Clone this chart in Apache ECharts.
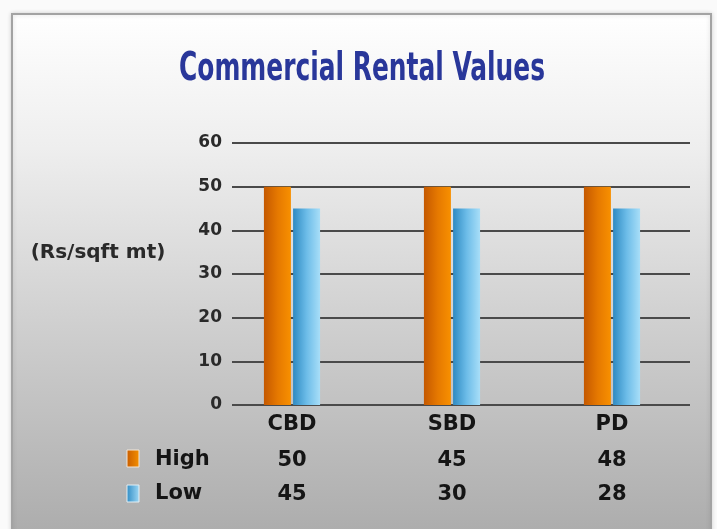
<!DOCTYPE html>
<html><head><meta charset="utf-8">
<script src="https://cdn.jsdelivr.net/npm/echarts@6/dist/echarts.min.js"></script>
<style>html,body{margin:0;padding:0;background:#fafafa}#c{width:717px;height:529px}</style>
</head><body><div id="c"></div>
<script>
const categories = ['CBD', 'SBD', 'PD'];
const highBars = [50, 50, 50];
const lowBars = [45, 45, 45];
const highTable = ['50', '45', '48'];
const lowTable = ['45', '30', '28'];
const yTicks = [0, 10, 20, 30, 40, 50, 60];
const titleText = 'Commercial Rental Values';
const yName = '(Rs/sqft mt)';

const chart = echarts.init(document.getElementById('c'), null, {renderer: 'canvas'});

const cv = document.createElement('canvas').getContext('2d');
const titleFont = 'bold 39px "DejaVu Sans Condensed", "DejaVu Sans", sans-serif';
cv.font = titleFont;
const tw = cv.measureText(titleText).width;
const sx = 366 / tw;

const FF = '"DejaVu Sans", Verdana, sans-serif';
const txt = {fontFamily: FF, fontWeight: 'bold'};

const option = {
  animation: false,
  backgroundColor: '#fafafa',
  graphic: [
    {type: 'rect', z: -10, shape: {x: 12, y: 14, width: 699, height: 540},
     style: {fill: new echarts.graphic.LinearGradient(0, 0, 0, 1, [
        {offset: 0, color: '#ffffff'}, {offset: 0.25, color: '#eeeeee'}, {offset: 0.6, color: '#cdcdcd'}, {offset: 1, color: '#a9a9a9'}]),
       stroke: '#a3a3a3', lineWidth: 2, shadowColor: 'rgba(0,0,0,0.15)', shadowBlur: 4}},
    {type: 'text', z: 5, x: 362, y: 70, scaleX: sx, originX: 0,
     style: {text: titleText, font: titleFont, fill: '#29379a', textAlign: 'center', textVerticalAlign: 'middle'}},
    {type: 'text', z: 5, x: 98, y: 253,
     style: {text: yName, font: 'bold 20px ' + FF, fill: '#2a2a2a', textAlign: 'center', textVerticalAlign: 'middle'}},
    {type: 'rect', z: 5, shape: {x: 127, y: 450, width: 12, height: 17},
     style: {fill: new echarts.graphic.LinearGradient(0, 0, 1, 0, [{offset: 0, color: '#c85c00'}, {offset: 1, color: '#f59000'}]), stroke: '#f2e6d8', lineWidth: 1}},
    {type: 'rect', z: 5, shape: {x: 127, y: 485, width: 12, height: 17},
     style: {fill: new echarts.graphic.LinearGradient(0, 0, 1, 0, [{offset: 0, color: '#2f8cc4'}, {offset: 1, color: '#9fd8f5'}]), stroke: '#e2eef4', lineWidth: 1}},
    {type: 'text', z: 5, x: 155, y: 460,
     style: {text: 'High', font: 'bold 21px ' + FF, fill: '#151515', textVerticalAlign: 'middle'}},
    {type: 'text', z: 5, x: 155, y: 494,
     style: {text: 'Low', font: 'bold 21px ' + FF, fill: '#151515', textVerticalAlign: 'middle'}}
  ],
  grid: [
    {left: 212, right: 25, top: 143, bottom: 124},
    {left: 232, right: 27, top: 143, bottom: 124}
  ],
  xAxis: [
    {type: 'category', gridIndex: 0, data: categories, axisLine: {show: false}, axisTick: {show: false},
     axisLabel: {margin: 9, fontSize: 21, color: '#151515', ...txt}},
    {type: 'category', gridIndex: 0, data: highTable, position: 'bottom', offset: 45,
     axisLine: {show: false}, axisTick: {show: false},
     axisLabel: {margin: 0, fontSize: 21, color: '#151515', ...txt}},
    {type: 'category', gridIndex: 0, data: lowTable, position: 'bottom', offset: 79,
     axisLine: {show: false}, axisTick: {show: false},
     axisLabel: {margin: 0, fontSize: 21, color: '#151515', ...txt}},
    {type: 'category', gridIndex: 1, data: categories, show: false}
  ],
  yAxis: [
    {type: 'value', gridIndex: 0, min: 0, max: 60, interval: 10, show: false, splitLine: {show: false}},
    {type: 'value', gridIndex: 1, min: yTicks[0], max: yTicks[yTicks.length - 1], interval: 10,
     axisLine: {show: false}, axisTick: {show: false},
     axisLabel: {margin: 10, fontSize: 17, color: '#2a2a2a', ...txt},
     splitLine: {lineStyle: {color: '#4a4a4a', width: 2}}}
  ],
  series: [
    {name: 'High', type: 'bar', xAxisIndex: 0, yAxisIndex: 0, data: highBars, barWidth: 27, barGap: '8%', z: 3,
     itemStyle: {color: new echarts.graphic.LinearGradient(0, 0, 1, 0, [
       {offset: 0, color: '#c45800'}, {offset: 0.5, color: '#e57800'}, {offset: 1, color: '#f89000'}])}},
    {name: 'Low', type: 'bar', xAxisIndex: 0, yAxisIndex: 0, data: lowBars, barWidth: 27, z: 3,
     itemStyle: {color: new echarts.graphic.LinearGradient(0, 0, 1, 0, [
       {offset: 0, color: '#2e8ac2'}, {offset: 0.5, color: '#6cbce8'}, {offset: 1, color: '#a8def8'}])}}
  ]
};
chart.setOption(option);
</script></body></html>
